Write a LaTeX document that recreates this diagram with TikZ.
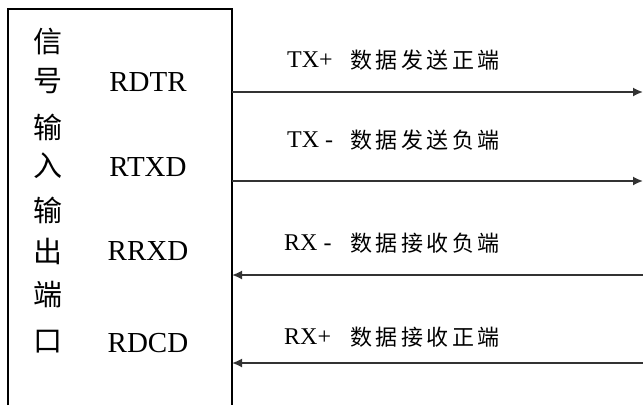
\documentclass[tikz,border=0pt]{standalone}
\usepackage{fontspec}
\setmainfont{Liberation Serif}
\newfontfamily\cjk{Noto Sans CJK SC}
\newfontfamily\cjkw[LetterSpace=16]{Noto Sans CJK SC}
\usetikzlibrary{arrows.meta}
\tikzset{
  box/.style={line width=1.6pt, draw=black},
  sig/.style={line width=1.7pt, draw=black!80, -{Latex[length=10pt,width=9pt]}},
  colchar/.style={inner sep=0pt, font=\cjk\fontsize{29}{29}\selectfont},
  pin/.style={inner sep=0pt, font=\fontsize{29}{29}\selectfont},
  lat/.style={inner sep=0pt, anchor=west, font=\fontsize{24}{24}\selectfont},
  zh/.style={inner sep=0pt, anchor=west, font=\cjkw\fontsize{22}{22}\selectfont},
}
\begin{document}
\begin{tikzpicture}[x=1pt,y=-1pt]
\useasboundingbox (0,0) rectangle (643,405);
% open-bottom box
\draw[box] (8,405) -- (8,9) -- (232,9) -- (232,405);
% column text
\node[colchar] (c1) at (48,42) {信};
\node[colchar] (c2) at (48,81) {号};
\node[colchar] (c3) at (48,127) {输};
\node[colchar] (c4) at (48,166) {入};
\node[colchar] (c5) at (48,210) {输};
\node[colchar] (c6) at (48,251) {出};
\node[colchar] (c7) at (48,295) {端};
\node[colchar] (c8) at (48,342) {口};
% pin names
\node[pin] (p1) at (148,82.5) {RDTR};
\node[pin] (p2) at (148,167) {RTXD};
\node[pin] (p3) at (148,251) {RRXD};
\node[pin] (p4) at (148,343) {RDCD};
% line endpoints
\coordinate (a1) at (232,92);  \coordinate (b1) at (643,92);
\coordinate (a2) at (232,181); \coordinate (b2) at (643,181);
\coordinate (a3) at (232,275); \coordinate (b3) at (643,275);
\coordinate (a4) at (232,363); \coordinate (b4) at (643,363);
\draw[sig] (a1) -- (b1);
\draw[sig] (a2) -- (b2);
\draw[sig] (b3) -- (a3);
\draw[sig] (b4) -- (a4);
% labels
\node[lat] (l1) at (287,60) {TX+};
\node[zh]  (z1) at (350,60) {数据发送正端};
\node[lat] (l2) at (287,140) {TX -};
\node[zh]  (z2) at (350,140) {数据发送负端};
\node[lat] (l3) at (284,243) {RX -};
\node[zh]  (z3) at (350,243) {数据接收负端};
\node[lat] (l4) at (284,337) {RX+};
\node[zh]  (z4) at (350,337) {数据接收正端};
\end{tikzpicture}
\end{document}
